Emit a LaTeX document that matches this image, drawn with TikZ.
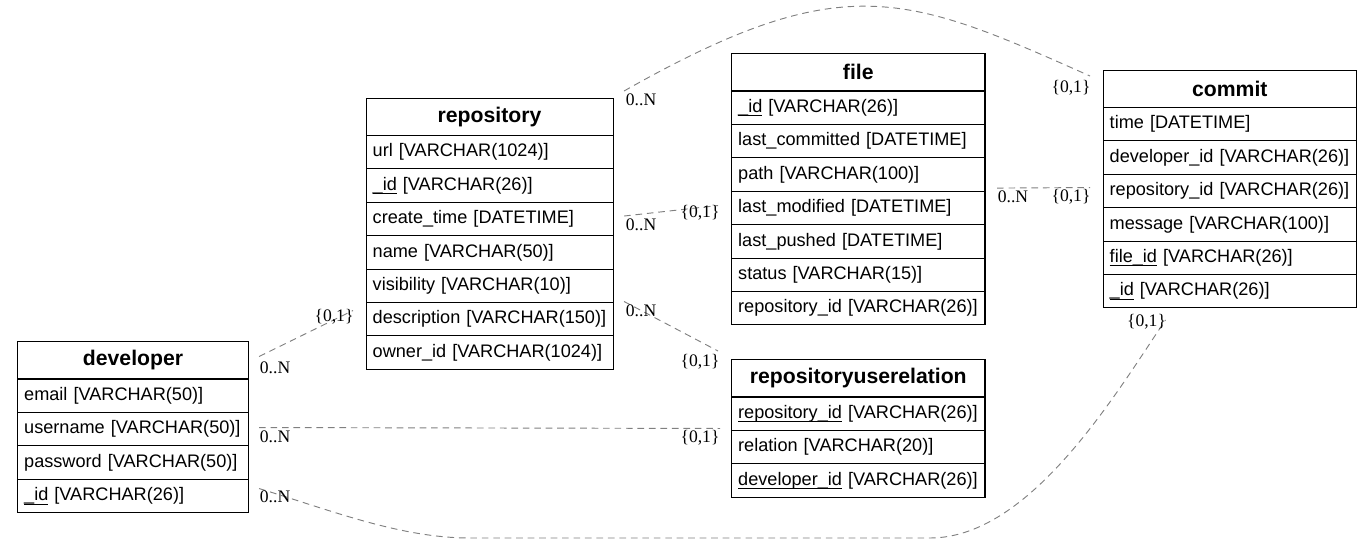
\documentclass[tikz,border=0pt]{standalone}
\usepackage{fontspec}
\setmainfont{Liberation Serif}
\setsansfont{Liberation Sans}
\usetikzlibrary{positioning}

% key fields: underline level with the underscore
\newlength\keywd
\newcommand\keyfld[1]{\settowidth{\keywd}{#1}\rlap{\rule[-2.9pt]{\keywd}{0.7pt}}#1}

\tikzset{
  tblhead/.style={draw, line width=0.8pt, anchor=north west, minimum height=28.1pt, inner sep=0pt,
    font=\sffamily\bfseries\fontsize{15.9}{18}\selectfont},
  tblrow/.style={draw, line width=0.8pt, anchor=north west, minimum height=25.05pt, inner xsep=5pt,
    inner ysep=0pt, align=left, font=\sffamily\fontsize{13.6}{16}\selectfont},
  rel/.style={draw=gray, dash pattern=on 5pt off 3.6pt, line width=0.7pt},
  card/.style={font=\rmfamily\fontsize{13.2}{15}\selectfont, inner sep=0pt}
}

\begin{document}
\begin{tikzpicture}[x=0.75pt, y=-0.75pt]
    \useasboundingbox (0,0) rectangle (1372,546);

    % developer table
    \node[tblhead, minimum width=173.25pt] (dev) at (17,341) {developer};
    \foreach \i/\txt in {1/email [VARCHAR(50)], 2/username [VARCHAR(50)], 3/password [VARCHAR(50)],
      4/\keyfld{\_id} [VARCHAR(26)]} {
      \node[tblrow, text width=163.25pt] (dev-\i) at (17,{378.5+(\i-1)*33.4}) {\mbox{\txt}};
    }

    % repository table
    \node[tblhead, minimum width=185.25pt] (repo) at (365.5,97.5) {repository};
    \foreach \i/\txt in {1/url [VARCHAR(1024)], 2/\keyfld{\_id} [VARCHAR(26)], 3/create\_time [DATETIME],
      4/name [VARCHAR(50)], 5/visibility [VARCHAR(10)], 6/description [VARCHAR(150)], 7/owner\_id [VARCHAR(1024)]} {
      \node[tblrow, text width=175.25pt] (repo-\i) at (365.5,{135+(\i-1)*33.4}) {\mbox{\txt}};
    }

    % file table
    \node[tblhead, minimum width=190.1pt] (file) at (731,53) {file};
    \foreach \i/\txt in {1/\keyfld{\_id} [VARCHAR(26)], 2/last\_committed [DATETIME], 3/path [VARCHAR(100)],
      4/last\_modified [DATETIME], 5/last\_pushed [DATETIME], 6/status [VARCHAR(15)], 7/repository\_id [VARCHAR(26)]} {
      \node[tblrow, text width=180.1pt] (file-\i) at (731,{90.5+(\i-1)*33.4}) {\mbox{\txt}};
    }

    % commit table
    \node[tblhead, minimum width=190.1pt] (commit) at (1102.5,69.5) {commit};
    \foreach \i/\txt in {1/time [DATETIME], 2/developer\_id [VARCHAR(26)], 3/repository\_id [VARCHAR(26)],
      4/message [VARCHAR(100)], 5/\keyfld{file\_id} [VARCHAR(26)], 6/\keyfld{\_id} [VARCHAR(26)]} {
      \node[tblrow, text width=180.1pt] (commit-\i) at (1102.5,{107+(\i-1)*33.4}) {\mbox{\txt}};
    }

    % repositoryuserelation table
    \node[tblhead, minimum width=190.1pt] (rur) at (731,359) {repositoryuserelation};
    \foreach \i/\txt in {1/\keyfld{repository\_id} [VARCHAR(26)], 2/relation [VARCHAR(20)],
      3/\keyfld{developer\_id} [VARCHAR(26)]} {
      \node[tblrow, text width=180.1pt] (rur-\i) at (731,{396.5+(\i-1)*33.4}) {\mbox{\txt}};
    }

    % Connector ends
    \coordinate (e1s) at ([shift={(10,-3.75)}]dev.east);
    \coordinate (e1e) at ([shift={(-12.5,8.5)}]repo-6.north west);
    \coordinate (e2s) at ([shift={(10,-1.6)}]dev-2.east);
    \coordinate (e2e) at ([shift={(-11,-2.5)}]rur-1.south west);
    \coordinate (e3s) at ([shift={(10,-7.4)}]dev-4.east);
    \coordinate (e3e) at ([shift={(63,11.5)}]commit-6.south west);
    \coordinate (e4s) at ([shift={(10.5,-6.5)}]repo.north east);
    \coordinate (e4e) at ([shift={(-12.5,6.5)}]commit.north west);
    \coordinate (e5s) at ([shift={(10.5,-3)}]repo-3.east);
    \coordinate (e5e) at ([shift={(-13,-2.4)}]file-4.west);
    \coordinate (e6s) at ([shift={(10.5,-0.5)}]repo-6.north east);
    \coordinate (e6e) at ([shift={(-13,-8)}]rur.north west);
    \coordinate (e7s) at ([shift={(11.5,-3.7)}]file-3.south east);
    \coordinate (e7e) at ([shift={(-12.5,-3.5)}]commit-3.west);

    % Relations
    \draw[rel] (e1s) -- (e1e);
    \draw[rel] (e2s) -- (e2e);
    \draw[rel] (e3s) .. controls (330,510) and (400,538) .. (470,538) -- (930,538)
      .. controls (1030,538) and (1115,395) .. (e3e);
    \draw[rel] (e4s) .. controls (843,-33) and (906,-6) .. (e4e);
    \draw[rel] (e5s) -- (e5e);
    \draw[rel] (e6s) -- (e6e);
    \draw[rel] (e7s) -- (e7e);

    % Cardinalities
    \node[card] (e1t) at ([shift={(16,11)}]e1s) {0..N};
    \node[card] (e1h) at ([shift={(-19,6)}]e1e) {\{0,1\}};
    \node[card] (e2t) at ([shift={(16,9)}]e2s) {0..N};
    \node[card] (e2h) at ([shift={(-20,9)}]e2e) {\{0,1\}};
    \node[card] (e3t) at ([shift={(16,8)}]e3s) {0..N};
    \node[card] (e3h) at ([shift={(-19,2)}]e3e) {\{0,1\}};
    \node[card] (e4t) at ([shift={(17,9)}]e4s) {0..N};
    \node[card] (e4h) at ([shift={(-19,12)}]e4e) {\{0,1\}};
    \node[card] (e5t) at ([shift={(17,9)}]e5s) {0..N};
    \node[card] (e5h) at ([shift={(-18,7)}]e5e) {\{0,1\}};
    \node[card] (e6t) at ([shift={(17,9)}]e6s) {0..N};
    \node[card] (e6h) at ([shift={(-18,11)}]e6e) {\{0,1\}};
    \node[card] (e7t) at ([shift={(16,9)}]e7s) {0..N};
    \node[card] (e7h) at ([shift={(-19,9)}]e7e) {\{0,1\}};
  \end{tikzpicture}
\end{document}
